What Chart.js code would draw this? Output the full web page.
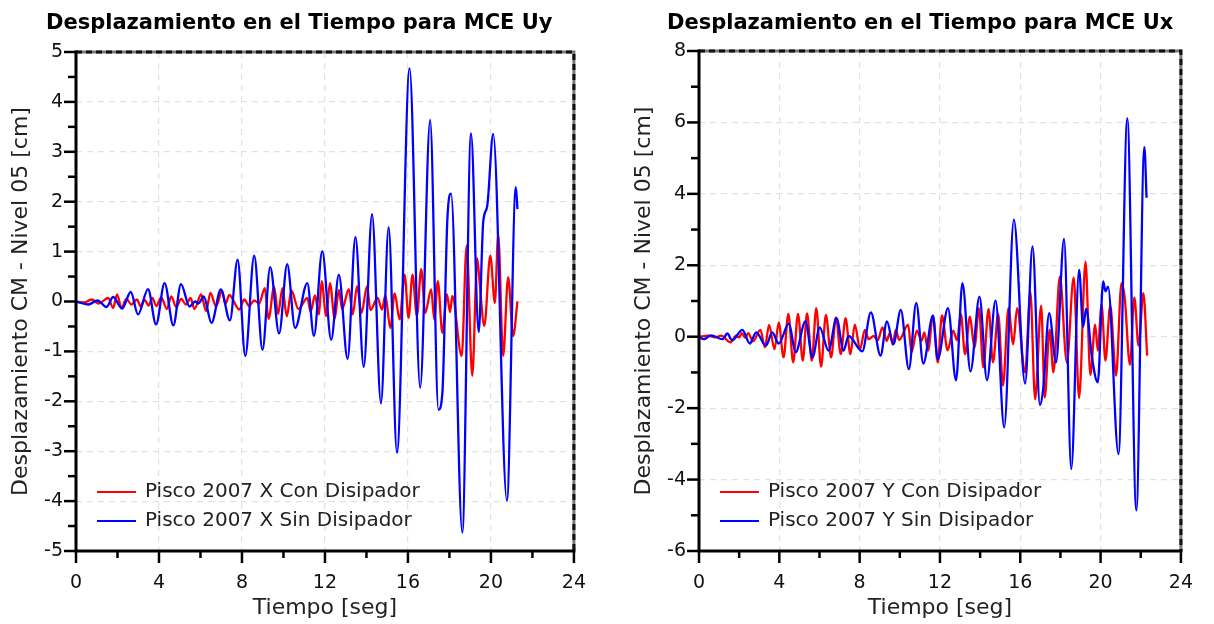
<!DOCTYPE html>
<html>
<head>
<meta charset="utf-8">
<script src="https://cdn.jsdelivr.net/npm/chart.js@4.4.0/dist/chart.umd.min.js"></script>
<style>
  body { margin: 0; background: #fff; width: 1214px; height: 624px; overflow: hidden; position: relative; }
  .panel { position: absolute; top: 0; width: 607px; height: 624px; }
  .titulo { position: absolute; top: 9px; font: bold 21px "DejaVu Sans"; line-height: 26px; color: #000; white-space: nowrap; }
</style>
</head>
<body>
<div class="panel" style="left:0"><canvas id="chartUy" width="607" height="624"></canvas></div>
<div class="panel" style="left:607px"><canvas id="chartUx" width="607" height="624"></canvas></div>
<div class="titulo" style="left:46px">Desplazamiento en el Tiempo para MCE Uy</div>
<div class="titulo" style="left:667px">Desplazamiento en el Tiempo para MCE Ux</div>

<script>
'use strict';

/**
 * datos (picos y valles, t en seg, desplazamiento en cm)
 */

const ejeX = [0, 4, 8, 12, 16, 20, 24];
const ejeYUy = [-5, -4, -3, -2, -1, 0, 1, 2, 3, 4, 5];
const ejeYUx = [-6, -4, -2, 0, 2, 4, 6, 8];

const nombresUy = ['Pisco 2007 X Con Disipador', 'Pisco 2007 X Sin Disipador'];
const nombresUx = ['Pisco 2007 Y Con Disipador', 'Pisco 2007 Y Sin Disipador'];

// MCE Uy - con disipador (rojo)
const tiempoUyCon = [0, 0.4, 0.75, 1.1, 1.55, 1.79, 1.98, 2.19, 2.43, 2.67, 2.94, 3.12, 3.3, 3.5, 3.68, 3.87,
  4.11, 4.38, 4.59, 4.83, 5.07, 5.3, 5.52, 5.71, 6.03, 6.27, 6.48, 6.75, 7.04, 7.2, 7.39, 7.87, 8.11, 8.35,
  8.59, 8.83, 9.1, 9.28, 9.55, 9.74, 9.95, 10.16, 10.38, 10.72, 11.15, 11.31, 11.52, 11.71, 11.84, 12.06,
  12.24, 12.47, 12.67, 12.83, 13.15, 13.34, 13.55, 13.76, 14.03, 14.19, 14.54, 14.75, 14.91, 15.15, 15.36,
  15.6, 15.84, 16.03, 16.22, 16.43, 16.64, 16.83, 17.12, 17.27, 17.44, 17.66, 17.88, 18.03, 18.14, 18.59,
  18.83, 19.1, 19.34, 19.45, 19.68, 19.97, 20.19, 20.35, 20.59, 20.83, 21.07, 21.28];
const despUyCon = [0, -0.02, 0.04, -0.04, 0.07, -0.13, 0.14, -0.13, 0.05, -0.06, 0.04, -0.1, 0.03, -0.08, 0.07, -0.09,
  0.08, -0.15, 0.1, -0.11, 0.05, -0.06, 0.07, -0.15, 0.14, -0.19, 0.17, -0.1, 0.21, -0.05, 0.13, -0.16, 0.04, -0.09,
  0.02, -0.04, 0.27, -0.35, 0.3, -0.25, 0.27, -0.3, 0.22, -0.15, 0.07, -0.2, 0.12, -0.26, 0.41, -0.29,
  0.37, -0.35, 0.23, -0.15, 0.25, -0.26, 0.31, -0.23, 0.31, -0.17, 0.07, -0.16, 0.12, -0.53, 0.16,
  -0.36, 0.54, -0.33, 0.54, -0.29, 0.65, -0.23, 0.24, -0.36, 0.41, -0.63, 0.14, -0.21, 0.11, -1.09,
  1.12, -1.49, 0.87, 0.41, -0.49, 0.92, -0.03, 1.34, -1.09, 0.49, -0.69, 0.0];

// MCE Uy - sin disipador (azul)
const tiempoUySin = [0, 0.59, 1.04, 1.47, 1.79, 2.22, 2.64, 2.99, 3.47, 3.86, 4.27, 4.69, 5.06, 5.47, 5.75, 5.9,
  6.16, 6.53, 6.98, 7.42, 7.79, 8.16, 8.59, 8.99, 9.36, 9.79, 10.18, 10.56, 11.15, 11.47, 11.87, 12.3, 12.67,
  13.09, 13.47, 13.87, 14.27, 14.7, 15.07, 15.47, 16.08, 16.59, 17.07, 17.47, 17.66, 17.9, 18.08, 18.62,
  19.04, 19.41, 19.63, 19.82, 20.11, 20.77, 21.2, 21.28];
const despUySin = [0, -0.06, 0.02, -0.11, 0.09, -0.14, 0.19, -0.26, 0.25, -0.46, 0.37, -0.48, 0.35, -0.1, 0.0, -0.04,
  0.1, -0.43, 0.24, -0.38, 0.84, -1.09, 0.92, -0.97, 0.69, -0.64, 0.75, -0.53, 0.37, -0.69, 1.01, -0.77, 0.54,
  -1.15, 1.29, -1.31, 1.75, -2.04, 1.49, -3.03, 4.67, -1.73, 3.64, -2.17, -1.83, 1.64, 2.16, -4.63,
  3.37, -0.61, 1.6, 1.91, 3.36, -3.99, 2.29, 1.85];

// MCE Ux - con disipador (rojo)
const tiempoUxCon = [0, 0.45, 0.8, 1.1, 1.57, 1.85, 2.0, 2.13, 2.3, 2.45, 2.69, 3.06, 3.28, 3.49, 3.76, 3.97,
  4.21, 4.45, 4.69, 4.93, 5.17, 5.38, 5.62, 5.84, 6.08, 6.32, 6.58, 6.82, 7.06, 7.3, 7.54, 7.76, 8.02, 8.26,
  8.45, 8.7, 8.9, 9.14, 9.35, 9.5, 9.65, 9.8, 9.97, 10.42, 10.58, 10.85, 11.09, 11.22, 11.41, 11.65, 11.89,
  12.1, 12.38, 12.66, 12.85, 13.04, 13.25, 13.49, 13.72, 13.94, 14.16, 14.42, 14.64, 14.9, 15.14, 15.41,
  15.65, 15.84, 16.24, 16.5, 16.74, 17.04, 17.22, 17.46, 17.65, 17.97, 18.32, 18.66, 18.93, 19.25, 19.49,
  19.73, 19.86, 20.05, 20.24, 20.48, 20.77, 21.04, 21.2, 21.46, 21.68, 21.89, 22.13, 22.32];
const despUxCon = [0, 0.03, -0.02, 0.03, -0.16, 0.03, -0.02, 0.1, -0.03, 0.1, -0.13, 0.19, -0.3, 0.33, -0.35, 0.4,
  -0.58, 0.64, -0.72, 0.64, -0.67, 0.65, -0.67, 0.8, -0.84, 0.61, -0.58, 0.54, -0.49, 0.52, -0.49, 0.34, -0.35, 0.19,
  -0.07, 0.02, -0.1, 0.26, -0.12, 0.1, -0.22, 0.19, -0.09, 0.34, -0.44, 0.17, -0.11, 0.12, -0.39, 0.59, -0.72,
  0.6, -0.38, 0.17, -0.1, 0.64, -0.49, 0.56, -0.3, 0.8, -0.86, 0.78, -0.72, 0.64, -1.37, 0.8,
  -0.21, 0.8, -1.0, 1.26, -1.75, 0.87, -1.7, 0.2, -1.0, 1.68, -0.72, 1.66, -1.72, 2.1, -1.07,
  0.34, -0.39, 0.9, -0.67, 0.87, -1.09, 1.5, 1.1, -0.79, 1.1, -0.25, 1.22, -0.53];

// MCE Ux - sin disipador (azul)
const tiempoUxSin = [0, 0.24, 0.6, 1.17, 1.41, 1.65, 2.16, 2.53, 2.85, 3.33, 3.65, 3.97, 4.48, 4.81, 5.3, 5.65,
  6.01, 6.45, 6.85, 7.2, 7.45, 8.13, 8.56, 9.04, 9.36, 9.68, 10.05, 10.45, 10.82, 11.17, 11.65, 11.89, 12.4,
  12.8, 13.12, 13.52, 13.97, 14.34, 14.77, 15.2, 15.68, 16.24, 16.61, 16.98, 17.14, 17.44, 17.78, 18.18,
  18.54, 18.93, 19.13, 19.28, 19.57, 19.86, 20.13, 20.24, 20.37, 20.89, 21.33, 21.78, 22.18, 22.29];
const despUxSin = [0, -0.07, 0.04, -0.07, 0.09, -0.1, 0.19, -0.19, 0.12, -0.25, 0.12, -0.19, 0.37, -0.44, 0.43, -0.58,
  0.26, -0.39, 0.52, -0.39, 0.02, -0.41, 0.68, -0.53, 0.43, -0.21, 0.75, -0.91, 0.95, -0.75, 0.59, -0.63, 0.8,
  -1.22, 1.5, -0.97, 1.12, -1.22, 1.01, -2.54, 3.28, -1.31, 2.53, -1.91, -1.47, 0.66, -0.72, 2.74,
  -3.71, 1.87, 0.28, 0.78, -0.58, -1.28, 1.55, 1.27, 1.4, -3.29, 6.11, -4.86, 5.31, 3.89];

const colores = ['#ff0000', '#0000ff'];
const fuente = '"DejaVu Sans"';

const toPoints = function (tt, dd) {
  return tt.map((t, i) => ({ x: t, y: dd[i] }));
}

/**
 * ticks menores/mayores, marco punteado y leyenda
 */

const marco = {
  id: 'marco',
  afterDraw(chart, args, opts) {
    const { ctx, chartArea: a, scales: { x, y } } = chart;
    ctx.save();

    // borde superior y derecho
    ctx.lineWidth = 3;
    ctx.strokeStyle = '#777';
    ctx.beginPath();
    ctx.moveTo(a.left, a.top);
    ctx.lineTo(a.right, a.top);
    ctx.lineTo(a.right, a.bottom);
    ctx.stroke();
    ctx.setLineDash([6, 4]);
    ctx.strokeStyle = '#111';
    ctx.stroke();
    ctx.setLineDash([]);

    // ejes izquierdo e inferior
    ctx.strokeStyle = '#000';
    ctx.beginPath();
    ctx.moveTo(a.left, a.top - 1.5);
    ctx.lineTo(a.left, a.bottom);
    ctx.lineTo(a.right + 1.5, a.bottom);
    ctx.stroke();

    // marcas
    ctx.lineWidth = 2.5;
    const xs = opts.xStep / 2;
    for (let v = x.min; v <= x.max + 1e-9; v += xs) {
      const px = x.getPixelForValue(v);
      const mayor = Math.abs(v / opts.xStep - Math.round(v / opts.xStep)) < 1e-6;
      ctx.beginPath();
      ctx.moveTo(px, a.bottom);
      ctx.lineTo(px, a.bottom + (mayor ? 12 : 7));
      ctx.stroke();
    }
    const ys = opts.yStep / 2;
    for (let v = y.min; v <= y.max + 1e-9; v += ys) {
      const py = y.getPixelForValue(v);
      const mayor = Math.abs(v / opts.yStep - Math.round(v / opts.yStep)) < 1e-6;
      ctx.beginPath();
      ctx.moveTo(a.left, py);
      ctx.lineTo(a.left - (mayor ? 12 : 8), py);
      ctx.stroke();
    }

    // leyenda
    ctx.font = '20px ' + fuente;
    ctx.textBaseline = 'middle';
    ctx.textAlign = 'left';
    chart.data.datasets.forEach((ds, i) => {
      const ly = a.bottom - 59 + i * 29;
      ctx.strokeStyle = ds.borderColor;
      ctx.lineWidth = 2;
      ctx.beginPath();
      ctx.moveTo(a.left + 21, ly);
      ctx.lineTo(a.left + 60, ly);
      ctx.stroke();
      ctx.fillStyle = '#222';
      ctx.fillText(ds.label, a.left + 69, ly);
    });

    ctx.restore();
  }
};

const makeChart = function (id, nombres, series, ejeY, yWidth, yTitlePad, padRight, padTop) {
  const yStep = ejeY[1] - ejeY[0];
  const xStep = ejeX[1] - ejeX[0];
  return new Chart(document.getElementById(id), {
    type: 'line',
    data: {
      datasets: series.map((s, i) => ({
        label: nombres[i],
        data: toPoints(s[0], s[1]),
        borderColor: colores[i],
        borderWidth: 2.3,
        pointRadius: 0,
        cubicInterpolationMode: 'monotone',
        order: i === 0 ? 1 : 0
      }))
    },
    options: {
      responsive: false,
      animation: false,
      layout: { padding: { left: 0, right: padRight, top: padTop, bottom: 0 } },
      plugins: {
        legend: { display: false },
        tooltip: { enabled: false },
        marco: { xStep: xStep, yStep: yStep }
      },
      scales: {
        x: {
          type: 'linear',
          min: ejeX[0],
          max: ejeX[ejeX.length - 1],
          afterFit: (scale) => { scale.height = 73; },
          ticks: { stepSize: xStep, padding: 21, color: '#111', font: { family: fuente, size: 19 } },
          grid: { color: '#e2e2e2', lineWidth: 1.2, drawTicks: false, borderDash: [6, 5] },
          border: { display: false, dash: [6, 5] },
          title: { display: true, text: 'Tiempo [seg]', color: '#222', padding: { top: 0, bottom: 3 }, font: { family: fuente, size: 22 } }
        },
        y: {
          min: ejeY[0],
          max: ejeY[ejeY.length - 1],
          afterFit: (scale) => { scale.width = yWidth; },
          ticks: { stepSize: yStep, padding: 13, color: '#111', font: { family: fuente, size: 19 } },
          grid: { color: '#e2e2e2', lineWidth: 1.2, drawTicks: false, borderDash: [6, 5] },
          border: { display: false, dash: [6, 5] },
          title: { display: true, text: 'Desplazamiento CM - Nivel 05 [cm]', color: '#222', padding: { top: yTitlePad, bottom: 0 }, font: { family: fuente, size: 22 } }
        }
      }
    },
    plugins: [marco]
  });
}

makeChart('chartUy', nombresUy,
  [[tiempoUyCon, despUyCon], [tiempoUySin, despUySin]], ejeYUy, 76, 8, 31, 52);
makeChart('chartUx', nombresUx,
  [[tiempoUxCon, despUxCon], [tiempoUxSin, despUxSin]], ejeYUx, 92, 24, 15, 51);
</script>
</body>
</html>
